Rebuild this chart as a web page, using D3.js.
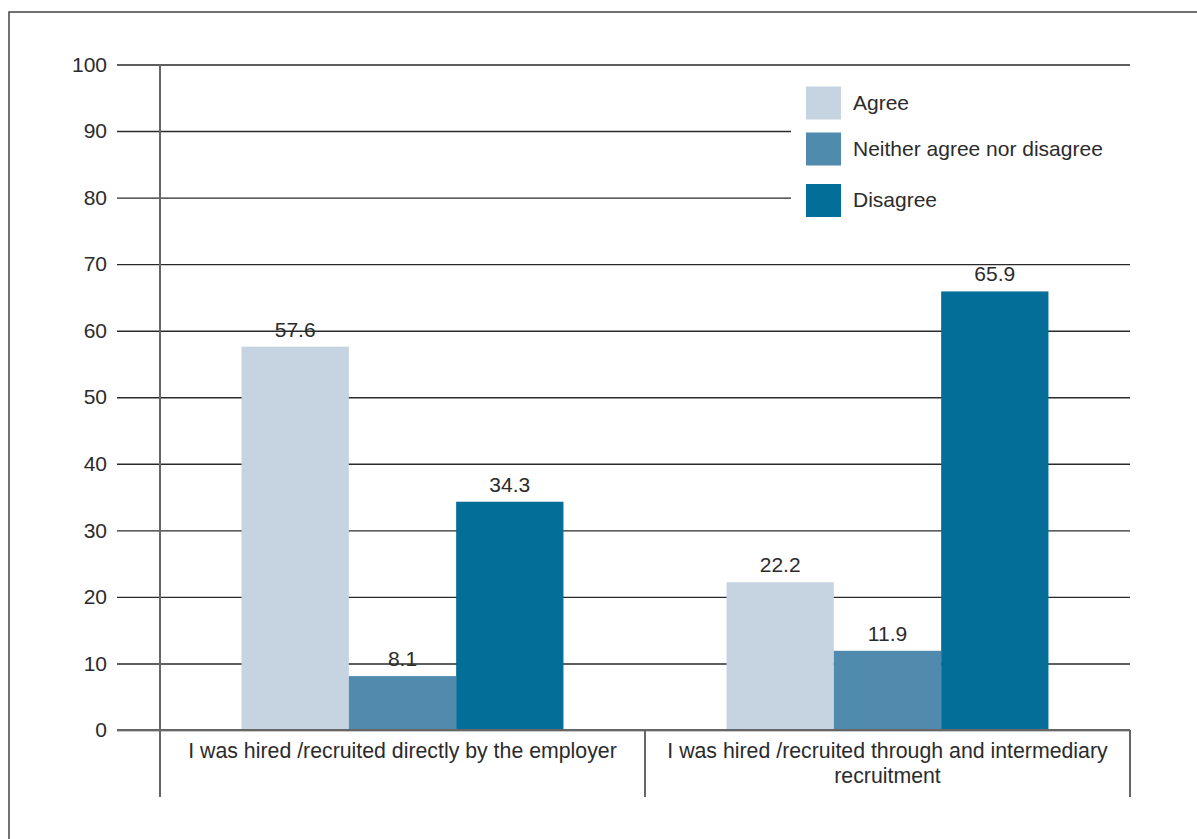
<!DOCTYPE html>
<html>
<head>
<meta charset="utf-8">
<script src="https://cdn.jsdelivr.net/npm/d3@7"></script>
<style>
  html, body { margin: 0; padding: 0; background: #fff; }
  svg { display: block; font-family: "Liberation Sans", Arial, sans-serif; }
</style>
</head>
<body>
<svg id="chart" width="1197" height="839"></svg>
<script>
// Survey responses by recruitment channel (percent)
const categories = [
  "I was hired /recruited directly by the employer",
  "I was hired /recruited through and intermediary recruitment"
];
const series = ["Agree", "Neither agree nor disagree", "Disagree"];
const agreeValues = [57.6, 22.2];
const neitherValues = [8.1, 11.9];
const disagreeValues = [34.3, 65.9];
const yTicks = [0, 10, 20, 30, 40, 50, 60, 70, 80, 90, 100];

const seriesValues = [agreeValues, neitherValues, disagreeValues];
const colors = ["#c6d4e1", "#508bae", "#036e98"];

const svg = d3.select("#chart");
const textColor = "#2b2b2b";
const fontSize = 21;

// Outer frame (runs off the right and bottom edges)
svg.append("rect")
  .attr("x", 9).attr("y", 12)
  .attr("width", 1300).attr("height", 1000)
  .attr("fill", "none").attr("stroke", "#444").attr("stroke-width", 1.5);

const plotLeft = 160, plotRight = 1130, gridLeft = 117;
const yTop = 64.5, yBottom = 730;

const y = d3.scaleLinear().domain([0, 100]).range([yBottom, yTop]);
const x0 = d3.scaleBand().domain(categories).range([plotLeft, plotRight]).padding(0);
const x1 = d3.scaleBand().domain(series).range([0, x0.bandwidth()])
  .paddingInner(0).paddingOuter(0.76);

// Horizontal gridlines with tick labels
const yAxis = svg.append("g")
  .attr("transform", `translate(${gridLeft},0)`)
  .call(d3.axisLeft(y).tickValues(yTicks).tickFormat(d3.format("d"))
    .tickSize(-(plotRight - gridLeft)).tickPadding(10));
yAxis.select(".domain").remove();
yAxis.selectAll(".tick line").attr("stroke", "#2a2a2a").attr("stroke-width", 1.4);
yAxis.selectAll(".tick text")
  .attr("fill", textColor).attr("font-size", fontSize)
  .attr("font-family", "'Liberation Sans', Arial, sans-serif");

// Bars with value labels
const groups = svg.append("g").selectAll("g")
  .data(categories)
  .join("g")
  .attr("transform", d => `translate(${x0(d)},0)`);

groups.each(function(cat, ci) {
  const g = d3.select(this);
  series.forEach((s, si) => {
    const v = seriesValues[si][ci];
    g.append("rect")
      .attr("x", x1(s))
      .attr("y", y(v))
      .attr("width", x1.bandwidth())
      .attr("height", y(0) - y(v))
      .attr("fill", colors[si]);
    g.append("text")
      .attr("x", x1(s) + x1.bandwidth() / 2)
      .attr("y", y(v) - 10)
      .attr("text-anchor", "middle")
      .attr("fill", textColor)
      .attr("font-size", fontSize)
      .text(d3.format(".1f")(v));
  });
});

// Baseline and category axis frame
const axisGrey = "#666";
svg.append("line")
  .attr("x1", gridLeft).attr("x2", plotRight)
  .attr("y1", y(0)).attr("y2", y(0))
  .attr("stroke", axisGrey).attr("stroke-width", 2);
svg.append("line")
  .attr("x1", plotLeft).attr("x2", plotLeft)
  .attr("y1", y(100)).attr("y2", 797)
  .attr("stroke", axisGrey).attr("stroke-width", 2);
categories.forEach(c => {
  svg.append("line")
    .attr("x1", x0(c) + x0.bandwidth()).attr("x2", x0(c) + x0.bandwidth())
    .attr("y1", y(0)).attr("y2", 797)
    .attr("stroke", axisGrey).attr("stroke-width", 2);
});

// Category labels, wrapped
const labelLines = [
  [categories[0]],
  ["I was hired /recruited through and intermediary", "recruitment"]
];
categories.forEach((c, i) => {
  const t = svg.append("text")
    .attr("text-anchor", "middle")
    .attr("fill", textColor)
    .attr("font-size", 21.3);
  labelLines[i].forEach((line, li) => {
    t.append("tspan")
      .attr("x", x0(c) + x0.bandwidth() / 2)
      .attr("y", 758 + li * 25)
      .text(line);
  });
});

// Legend
const legend = svg.append("g");
legend.append("rect")
  .attr("x", 791).attr("y", 76)
  .attr("width", plotRight - 791 + 2).attr("height", 160)
  .attr("fill", "#fff");
const legendRows = [86.5, 132.5, 184];
series.forEach((s, i) => {
  legend.append("rect")
    .attr("x", 806).attr("y", legendRows[i])
    .attr("width", 35).attr("height", 33)
    .attr("fill", colors[i]);
  legend.append("text")
    .attr("x", 853).attr("y", legendRows[i] + 23)
    .attr("fill", textColor)
    .attr("font-size", fontSize)
    .text(s);
});
</script>
</body>
</html>
